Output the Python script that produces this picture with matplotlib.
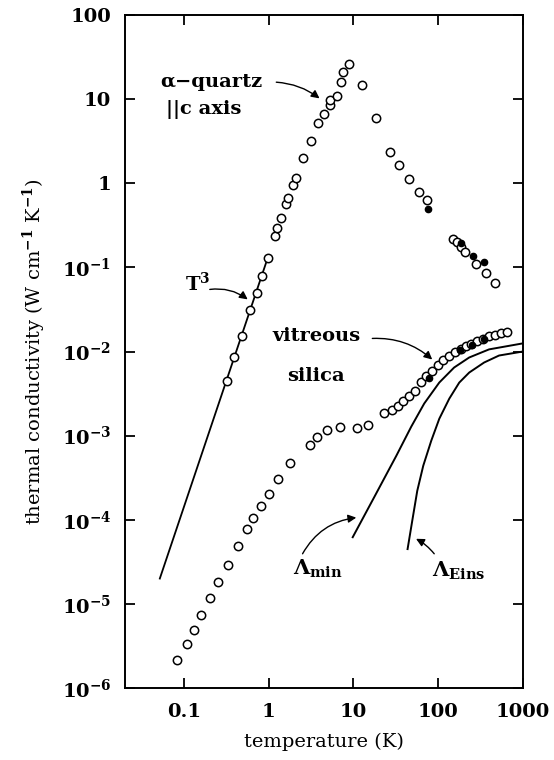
import numpy as np
import matplotlib
matplotlib.use("Agg")
import matplotlib.pyplot as plt
from matplotlib.ticker import FixedLocator, FuncFormatter, NullLocator

# alpha-quartz, heat flow parallel to c axis (open circles)
quartz_T = [0.32, 0.39, 0.49, 0.61, 0.72, 0.83, 0.98, 1.18, 1.25, 1.41, 1.58, 1.69,
            1.93, 2.08, 2.51, 3.12, 3.80, 4.48, 5.22, 5.22, 6.40, 7.17, 7.43, 8.85,
            12.5, 18.5, 27.3, 34.1, 45.6, 58.7, 72.9, 151, 166, 188, 206, 278, 370, 469]
quartz_k = [0.0045, 0.0086, 0.0152, 0.031, 0.049, 0.080, 0.13, 0.236, 0.297, 0.386,
            0.562, 0.676, 0.946, 1.17, 1.99, 3.19, 5.22, 6.58, 8.49, 9.73, 10.9, 15.8,
            21.1, 26.1, 14.8, 5.89, 2.36, 1.67, 1.11, 0.797, 0.640, 0.217, 0.200,
            0.174, 0.152, 0.111, 0.0856, 0.0657]
# second quartz data set (filled circles)
quartz_T2 = [76.3, 185, 258, 348]
quartz_k2 = [0.490, 0.195, 0.135, 0.117]

# vitreous silica
silica_T = [0.082, 0.108, 0.132, 0.161, 0.202, 0.253, 0.327, 0.432, 0.556, 0.661,
            0.820, 1.00, 1.30, 1.77, 3.04, 3.74, 4.91, 6.90, 11.1, 15.0,
            23.2, 28.5, 33.2, 38.7, 45.6, 53.2, 62.6, 71.7, 84.3, 98.2, 114.5,
            134.7, 157, 185, 212, 243, 290, 341, 398, 469, 547, 643]
silica_k = [2.14e-6, 3.37e-6, 4.86e-6, 7.46e-6, 1.16e-5, 1.83e-5, 2.91e-5, 4.86e-5,
            7.67e-5, 1.04e-4, 1.44e-4, 2.02e-4, 3.05e-4, 4.73e-4, 7.81e-4, 9.73e-4,
            1.18e-3, 1.28e-3, 1.24e-3, 1.34e-3,
            1.84e-3, 2.02e-3, 2.28e-3, 2.61e-3, 2.97e-3, 3.37e-3, 4.31e-3, 5.18e-3,
            5.94e-3, 6.82e-3, 7.82e-3, 8.96e-3, 9.81e-3, 1.08e-2, 1.16e-2, 1.24e-2,
            1.35e-2, 1.42e-2, 1.51e-2, 1.59e-2, 1.65e-2, 1.70e-2]
silica_T2 = [78.4, 180, 253, 348]
silica_k2 = [4.86e-3, 1.05e-2, 1.18e-2, 1.39e-2]

# T^3 boundary scattering line (end points)
t3_T = [0.052, 1.0]
t3_k = [2.0e-5, 0.14]

# model curves
lmin_T = [9.8, 17.7, 32.1, 48.1, 68.4, 103, 154, 232, 398, 1000]
lmin_k = [6.2e-5, 1.88e-4, 5.78e-4, 1.28e-3, 2.41e-3, 4.28e-3, 6.45e-3, 8.49e-3,
          1.06e-2, 1.25e-2]
leins_T = [43.5, 49.4, 56.6, 66.6, 82.8, 103, 135, 177, 232, 348, 522, 1000]
leins_k = [4.48e-5, 9.73e-5, 2.21e-4, 4.39e-4, 8.71e-4, 1.59e-3, 2.75e-3, 4.27e-3,
           5.62e-3, 7.40e-3, 8.96e-3, 1.0e-2]

xticks = [0.1, 1, 10, 100, 1000]
yticks = [1e-6, 1e-5, 1e-4, 1e-3, 1e-2, 1e-1, 1, 10, 100]

plt.rcParams['font.family'] = ['DejaVu Serif']
plt.rcParams['mathtext.fontset'] = 'custom'
plt.rcParams['mathtext.rm'] = 'DejaVu Serif:bold'
plt.rcParams['mathtext.it'] = 'DejaVu Serif:bold'
plt.rcParams['mathtext.bf'] = 'DejaVu Serif:bold'
plt.rcParams['font.size'] = 14
plt.rcParams['font.weight'] = 'bold'

fig = plt.figure(figsize=(5.54, 7.6), dpi=100)
ax = fig.add_axes([125 / 554, 72 / 760, 398 / 554, 673 / 760])
ax.set_xscale('log')
ax.set_yscale('log')
ax.set_xlim(0.0202, 1000)
ax.set_ylim(1e-6, 100)

ms = dict(marker='o', ms=6, mfc='white', mec='black', mew=1.1, ls='none')
ax.plot(t3_T, t3_k, color='black', lw=1.3, zorder=1)
ax.plot(lmin_T, lmin_k, color='black', lw=1.4, zorder=1)
ax.plot(leins_T, leins_k, color='black', lw=1.4, zorder=1)
ax.plot(quartz_T, quartz_k, zorder=2, **ms)
ax.plot(silica_T, silica_k, zorder=2, **ms)
ax.plot(quartz_T2, quartz_k2, 'o', color='black', ms=4.5, zorder=3)
ax.plot(silica_T2, silica_k2, 'o', color='black', ms=4.5, zorder=3)

def tick_fmt(v, pos):
    e = int(round(np.log10(v)))
    if e >= 0:
        return f'{v:g}'
    return r'$\mathrm{10^{%d}}$' % e

ax.xaxis.set_major_locator(FixedLocator(xticks))
ax.xaxis.set_major_formatter(FuncFormatter(lambda v, p: f'{v:g}'))
ax.yaxis.set_major_locator(FixedLocator(yticks))
ax.yaxis.set_major_formatter(FuncFormatter(tick_fmt))
ax.xaxis.set_minor_locator(NullLocator())
ax.yaxis.set_minor_locator(NullLocator())
ax.tick_params(which='major', direction='in', length=7, width=1.3,
               top=True, right=True, labelsize=14)
ax.tick_params(axis='x', pad=11)
ax.tick_params(axis='y', pad=10)
for s in ax.spines.values():
    s.set_linewidth(1.4)

ax.set_xlabel('temperature (K)', fontsize=14, labelpad=8)
ax.set_ylabel(r'thermal conductivity (W cm$^{-1}$ K$^{-1}$)', fontsize=14,
              fontweight='normal', labelpad=10)

arrow = dict(arrowstyle='-|>', color='black', lw=1.0, mutation_scale=12, shrinkA=0, shrinkB=0)

ax.text(0.0522, 15.9, 'α−quartz', ha='left', va='center', fontsize=14)
ax.text(0.0614, 7.6, '||c axis', ha='left', va='center', fontsize=14)
ax.annotate('', xy=(3.98, 10.2), xytext=(1.23, 15.9),
            arrowprops=dict(connectionstyle='arc3,rad=-0.15', **arrow))

ax.text(0.103, 0.0645, r'T$^{3}$', ha='left', va='center', fontsize=14)
ax.annotate('', xy=(0.566, 0.0416), xytext=(0.202, 0.0547),
            arrowprops=dict(connectionstyle='arc3,rad=-0.2', **arrow))

ax.text(1.11, 0.0151, 'vitreous', ha='left', va='center', fontsize=14)
ax.text(1.63, 5.18e-3, 'silica', ha='left', va='center', fontsize=14)
ax.annotate('', xy=(85, 8.03e-3), xytext=(16.7, 0.0143),
            arrowprops=dict(connectionstyle='arc3,rad=-0.2', **arrow))

ax.text(1.92, 2.61e-5, r'$\Lambda_{\mathrm{min}}$', ha='left', va='center', fontsize=15)
ax.annotate('', xy=(10.8, 1.06e-4), xytext=(2.51, 3.94e-5),
            arrowprops=dict(connectionstyle='arc3,rad=-0.25', **arrow))

ax.text(85, 2.47e-5, r'$\Lambda_{\mathrm{Eins}}$', ha='left', va='center', fontsize=15)
ax.annotate('', xy=(54.7, 5.94e-5), xytext=(89.7, 3.94e-5),
            arrowprops=dict(connectionstyle='arc3,rad=0.1', **arrow))

fig.savefig('out.png', dpi=100)
